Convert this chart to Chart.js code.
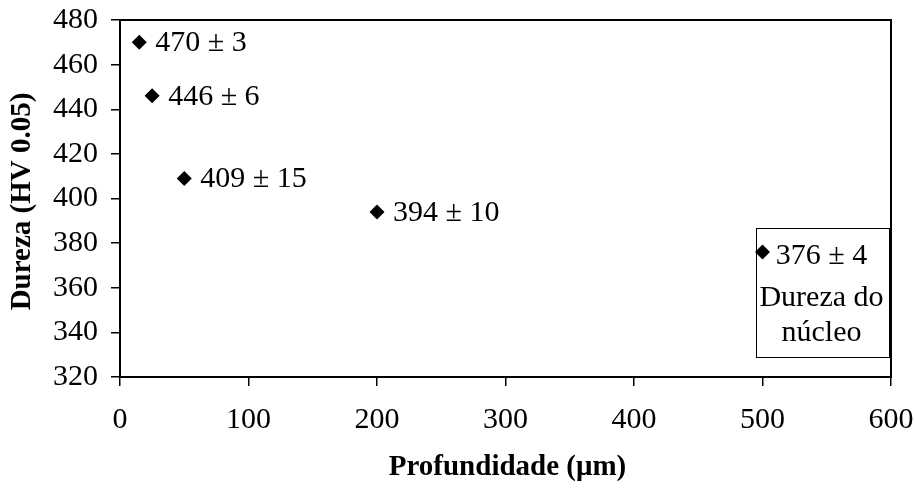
<!DOCTYPE html>
<html>
<head>
<meta charset="utf-8">
<script src="https://cdn.jsdelivr.net/npm/chart.js@4/dist/chart.umd.min.js"></script>
<style>
  html, body { margin: 0; padding: 0; background: #ffffff; }
  #wrap { width: 915px; height: 493px; position: relative; }
</style>
</head>
<body>
<div id="wrap"><canvas id="c" width="915" height="493"></canvas></div>
<script>
// Hardness profile: depth (µm) vs. Vickers hardness HV 0.05
const depths = [15, 25, 50, 200, 500];
const hardness = [470, 446, 409, 394, 376];
const deviations = [3, 6, 15, 10, 4];
const coreNote = ['Dureza do', 'núcleo'];
const xTicks = [0, 100, 200, 300, 400, 500, 600];
const yTicks = [320, 340, 360, 380, 400, 420, 440, 460, 480];
const xTitle = 'Profundidade (μm)';
const yTitle = 'Dureza (HV 0.05)';

const FONT = '"Liberation Serif", "Times New Roman", serif';
const TEXT_SIZE = 30;

const points = depths.map((d, i) => ({ x: d, y: hardness[i] }));

// Frame, value labels, the core-hardness box and the axis titles
const annotate = {
  id: 'annotate',
  beforeDatasetsDraw(chart) {
    const { ctx, chartArea: a } = chart;
    ctx.save();
    ctx.strokeStyle = '#000';
    ctx.lineWidth = 2;
    ctx.strokeRect(a.left, a.top, a.right - a.left, a.bottom - a.top);
    ctx.restore();
  },
  afterDatasetsDraw(chart) {
    const { ctx } = chart;
    const meta = chart.getDatasetMeta(0);
    ctx.save();
    ctx.fillStyle = '#000';
    ctx.font = TEXT_SIZE + 'px ' + FONT;
    const last = hardness.length - 1;
    meta.data.forEach((el, i) => {
      const txt = hardness[i] + ' ± ' + deviations[i];
      if (i !== last) {
        ctx.textAlign = 'left';
        ctx.textBaseline = 'middle';
        ctx.fillText(txt, el.x + 16, el.y + 1);
      } else {
        // boxed label for the core value
        const bx = el.x - 7, by = el.y - 24, bw = 133, bh = 129;
        ctx.strokeStyle = '#000';
        ctx.lineWidth = 1;
        ctx.strokeRect(Math.round(bx) + 0.5, Math.round(by) + 0.5, bw, bh);
        ctx.textAlign = 'center';
        ctx.textBaseline = 'alphabetic';
        const cx = el.x + 59;
        ctx.fillText(txt, cx, el.y + 12);
        coreNote.forEach((line, k) => {
          ctx.fillText(line, cx, el.y + 54 + k * 35);
        });
      }
    });
    ctx.restore();
  },
  afterDraw(chart) {
    const { ctx, chartArea: a } = chart;
    ctx.save();
    ctx.fillStyle = '#000';
    ctx.font = 'bold 29px ' + FONT;
    ctx.textAlign = 'center';
    ctx.textBaseline = 'middle';
    ctx.fillText(xTitle, (a.left + a.right) / 2 + 2, 468);
    ctx.translate(23, (a.top + a.bottom) / 2 + 3);
    ctx.rotate(-Math.PI / 2);
    ctx.fillText(yTitle, 0, 0);
    ctx.restore();
  }
};

function fixBox(width, height) {
  return function (scale) {
    if (width !== null) scale.width = width;
    if (height !== null) scale.height = height;
    scale.paddingLeft = 0;
    scale.paddingRight = 0;
    scale.paddingTop = 0;
    scale.paddingBottom = 0;
  };
}

new Chart(document.getElementById('c'), {
  type: 'scatter',
  data: {
    datasets: [{
      data: points,
      pointStyle: 'rectRot',
      pointRadius: 7.5,
      pointHoverRadius: 7.5,
      backgroundColor: '#000',
      borderColor: '#000',
      borderWidth: 0
    }]
  },
  options: {
    responsive: false,
    animation: false,
    devicePixelRatio: 1,
    layout: { padding: { top: 20, right: 24, left: 0, bottom: 0 } },
    plugins: { legend: { display: false }, tooltip: { enabled: false } },
    scales: {
      x: {
        type: 'linear',
        min: xTicks[0],
        max: xTicks[xTicks.length - 1],
        afterBuildTicks(scale) { scale.ticks = xTicks.map(v => ({ value: v })); },
        afterFit: fixBox(null, 116),
        border: { display: true, color: '#000', width: 2 },
        grid: { display: true, drawOnChartArea: false, drawTicks: true, tickLength: 9, color: '#000', lineWidth: 1.5 },
        ticks: { color: '#000', font: { family: FONT, size: TEXT_SIZE }, padding: 16, maxRotation: 0 }
      },
      y: {
        type: 'linear',
        min: yTicks[0],
        max: yTicks[yTicks.length - 1],
        afterBuildTicks(scale) { scale.ticks = yTicks.map(v => ({ value: v })); },
        afterFit: fixBox(120, null),
        border: { display: true, color: '#000', width: 2 },
        grid: { display: true, drawOnChartArea: false, drawTicks: true, tickLength: 9, color: '#000', lineWidth: 1.5 },
        ticks: { color: '#000', font: { family: FONT, size: TEXT_SIZE }, padding: 13 }
      }
    }
  },
  plugins: [annotate]
});
</script>
</body>
</html>
